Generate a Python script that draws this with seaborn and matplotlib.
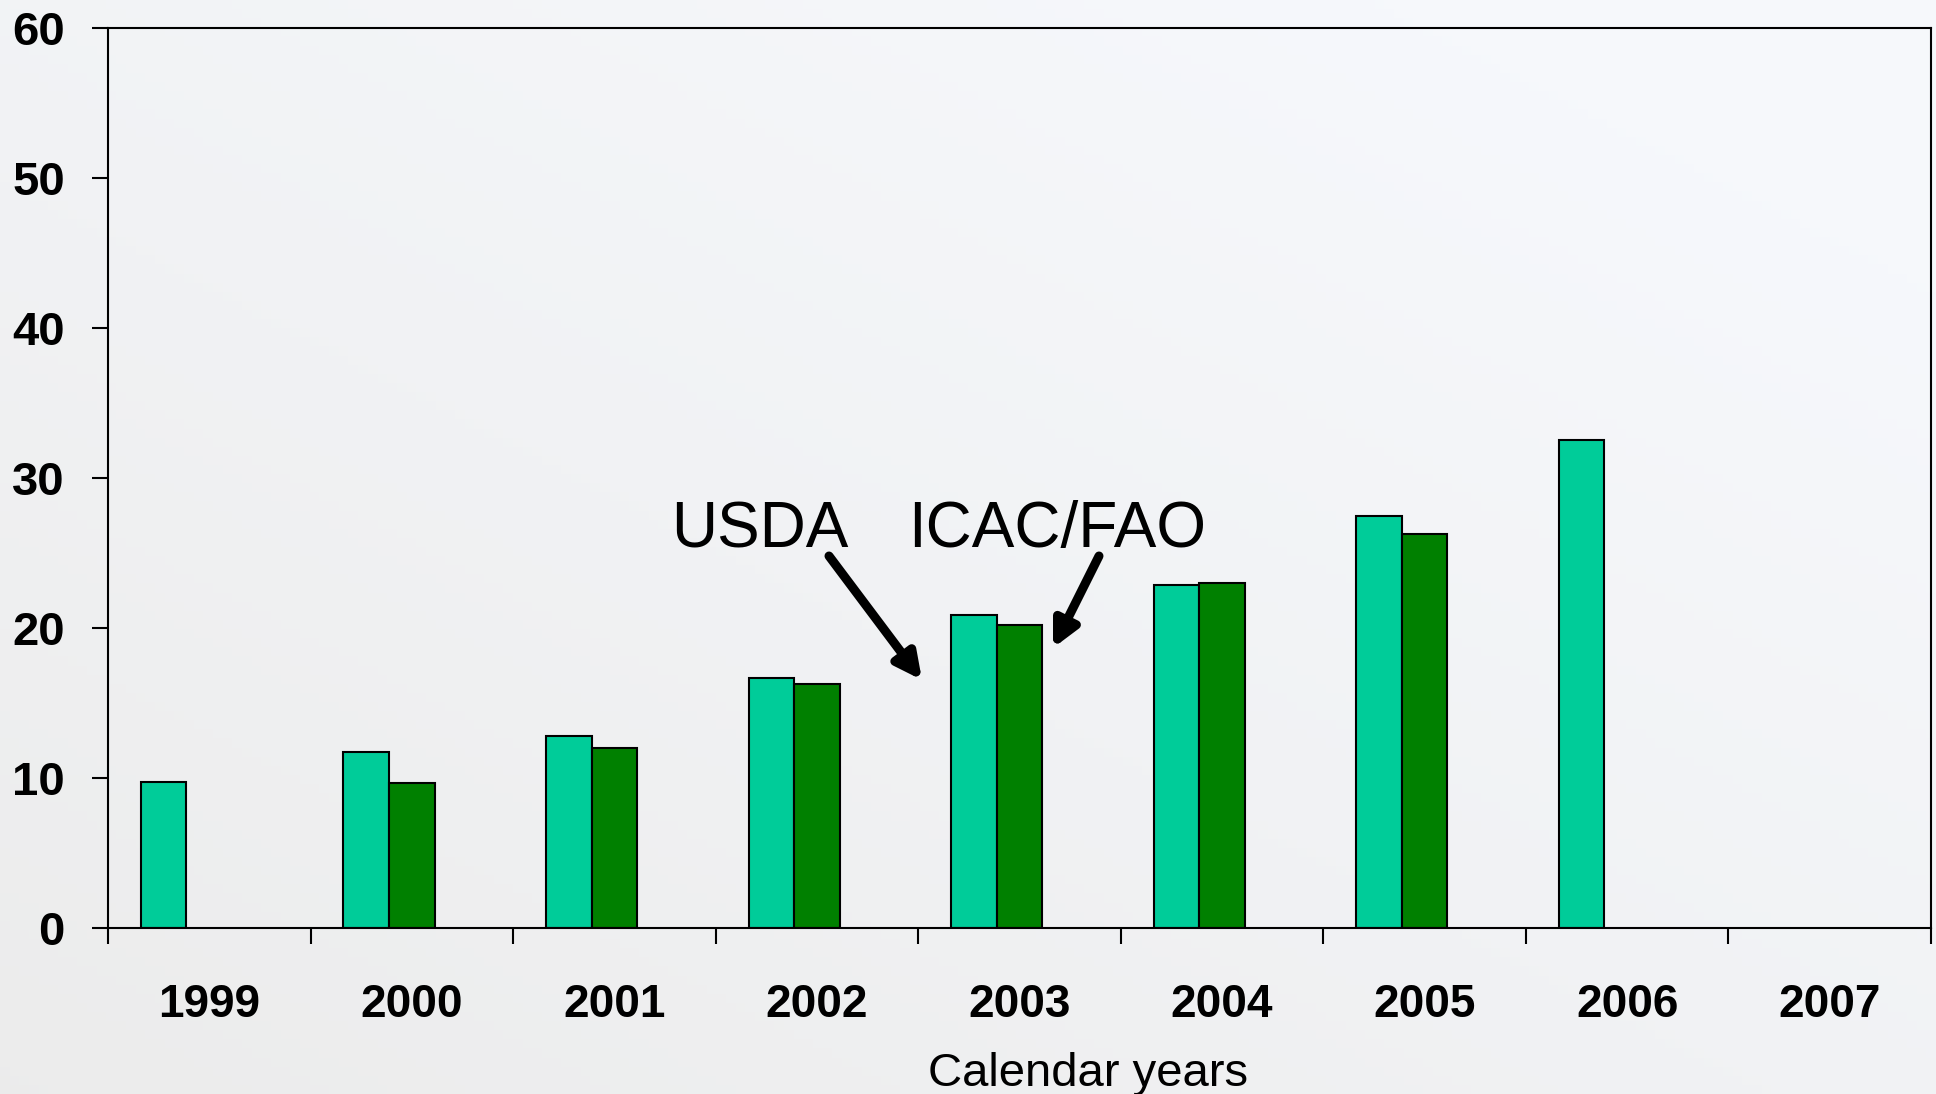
import numpy as np
import pandas as pd
import matplotlib
matplotlib.use("Agg")
import matplotlib.pyplot as plt
import seaborn as sns

# ---- data ----
years = ["1999", "2000", "2001", "2002", "2003", "2004", "2005", "2006", "2007"]
usda = [9.75, 11.75, 12.8, 16.65, 20.87, 22.87, 27.47, 32.53, np.nan]
icac_fao = [np.nan, 9.65, 12.0, 16.25, 20.2, 23.0, 26.27, np.nan, np.nan]
series_names = ["USDA", "ICAC/FAO", "blank"]
series_colors = {"USDA": "#00CC99", "ICAC/FAO": "#008000", "blank": "#FFFFFF"}
yticks = [0, 10, 20, 30, 40, 50, 60]
xlabel = "Calendar years"

rows = []
for y, u, c in zip(years, usda, icac_fao):
    rows.append({"year": y, "series": "USDA", "value": u})
    rows.append({"year": y, "series": "ICAC/FAO", "value": c})
    rows.append({"year": y, "series": "blank", "value": np.nan})
df = pd.DataFrame(rows)

sns.set_theme(style="white")
plt.rcParams["font.family"] = ["Liberation Sans", "DejaVu Sans"]
plt.rcParams["text.color"] = "black"
plt.rcParams["xtick.color"] = "black"
plt.rcParams["ytick.color"] = "black"
plt.rcParams["axes.labelcolor"] = "black"

W, H = 1936, 1094
fig = plt.figure(figsize=(W / 100, H / 100), dpi=100)
fig.patch.set_facecolor("#eeeeee")

# soft background gradient (light grey bottom-left to near-white top-right)
bg = fig.add_axes([0, 0, 1, 1], zorder=-10)
gx, gy = np.meshgrid(np.linspace(0, 1, 200), np.linspace(0, 1, 120))
g = np.clip(0.55 * gx + 0.6 * gy, 0, 1)
c0 = np.array([0.925, 0.925, 0.925])
c1 = np.array([0.965, 0.973, 0.988])
img = c0[None, None, :] * (1 - g[..., None]) + c1[None, None, :] * g[..., None]
bg.imshow(img, origin="lower", aspect="auto", extent=[0, 1, 0, 1])
bg.set_axis_off()

ax = fig.add_axes([108 / W, 166 / H, (1931 - 108) / W, (1066 - 166) / H])
ax.set_facecolor("none")

sns.barplot(
    data=df, x="year", y="value", hue="series",
    order=years, hue_order=series_names, palette=series_colors,
    saturation=1, width=0.675, errorbar=None, edgecolor="black", linewidth=1.5,
    legend=False, ax=ax,
)

ax.set_xlim(-0.5, len(years) - 0.5)
ax.set_ylim(0, 60)
ax.set_yticks(yticks)
ax.set_yticklabels([str(v) for v in yticks], fontsize=34, fontweight="bold")
ax.set_xticks(range(len(years)))
ax.set_xticklabels(years, fontsize=33, fontweight="bold")
ax.set_xticks(np.arange(-0.5, len(years), 1.0), minor=True)
ax.tick_params(axis="x", which="major", length=0, pad=39.5, labelcolor="black")
ax.tick_params(axis="x", which="minor", length=11.5, width=1.5,
               direction="out", color="black", bottom=True)
ax.tick_params(axis="y", which="major", length=11.5, width=1.5,
               direction="out", color="black", pad=19.5, left=True,
               labelcolor="black")
ax.set_xlabel("")
ax.set_ylabel("")
for s in ax.spines.values():
    s.set_visible(True)
    s.set_color("black")
    s.set_linewidth(1.5)

# annotations
fig.text(671 / W, (H - 547) / H, "USDA", fontsize=46, ha="left", va="baseline",
         color="black")
fig.text(908 / W, (H - 547) / H, "ICAC/FAO", fontsize=46, ha="left", va="baseline",
         color="black")
arrow_kw = dict(arrowstyle="-|>", lw=6.5, color="black",
                mutation_scale=38, shrinkA=0, shrinkB=0)
ax.annotate("", xy=(922, H - 680), xycoords="figure pixels",
            xytext=(829, H - 556), textcoords="figure pixels", arrowprops=arrow_kw)
ax.annotate("", xy=(1053, H - 648), xycoords="figure pixels",
            xytext=(1099, H - 556), textcoords="figure pixels", arrowprops=arrow_kw)

fig.text(1088.5 / W, (H - 1086) / H, xlabel, fontsize=34, ha="center", va="baseline",
         color="black")

fig.savefig("out.png", dpi=100, facecolor=fig.get_facecolor())
